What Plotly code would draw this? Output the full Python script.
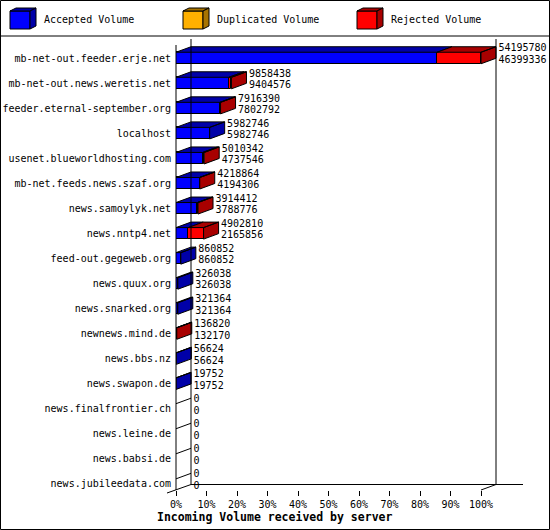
import plotly.graph_objects as go

# incoming volume per peer (bytes)
servers = [
    "mb-net-out.feeder.erje.net", "mb-net-out.news.weretis.net",
    "feeder.eternal-september.org", "localhost",
    "usenet.blueworldhosting.com", "mb-net.feeds.news.szaf.org",
    "news.samoylyk.net", "news.nntp4.net", "feed-out.gegeweb.org",
    "news.quux.org", "news.snarked.org", "newnews.mind.de", "news.bbs.nz",
    "news.swapon.de", "news.finalfrontier.ch", "news.leine.de",
    "news.babsi.de", "news.jubileedata.com",
]
total_volume = [54195780, 9858438, 7916390, 5982746, 5010342, 4218864,
                3914412, 4902810, 860852, 326038, 321364, 136820, 56624,
                19752, 0, 0, 0, 0]
accepted_volume = [46399336, 9404576, 7802792, 5982746, 4737546, 4194306,
                   3788776, 2165856, 860852, 326038, 321364, 132170, 56624,
                   19752, 0, 0, 0, 0]
duplicated_volume = [0, 0, 0, 0, 0, 0, 0, 0, 0, 0, 0, 0, 0, 0, 0, 0, 0, 0]
rejected_volume = [7796444, 453862, 113598, 0, 272796, 24558, 125636,
                   2736954, 0, 0, 0, 4650, 0, 0, 0, 0, 0, 0]

x_ticks = [0, 10, 20, 30, 40, 50, 60, 70, 80, 90, 100]
x_tick_labels = ["0%", "10%", "20%", "30%", "40%", "50%", "60%", "70%",
                 "80%", "90%", "100%"]

series = [
    ("Accepted Volume", accepted_volume, "#0000ff", "#0000a8"),
    ("Duplicated Volume", duplicated_volume, "#ffb000", "#a87400"),
    ("Rejected Volume", rejected_volume, "#ff0000", "#a80000"),
]

FONT = "DejaVu Sans Mono"
W, H = 550, 530
L, R, T, B = 176, 523, 39, 490      # plot area in pixels
PX_PER_PCT = 3.05
ROW_PX = 25.05
ROW0_PX = 58
DEPTH_X, DEPTH_Y = 15, 5.5          # 3d offset in pixels

DX = DEPTH_X / PX_PER_PCT
DY = DEPTH_Y / ROW_PX
BAR_W = 0.46


def px(x):
    return (x - L) / (R - L)


def py(y):
    return (B - y) / (B - T)


max_total = max(total_volume)
rows = list(range(len(servers)))

fig = go.Figure()

# front faces
base = [0.0] * len(servers)
segments = [[] for _ in servers]
for name, vals, col, dark in series:
    pct = [v / max_total * 100 for v in vals]
    fig.add_trace(go.Bar(
        y=rows, x=pct, base=list(base), orientation="h", width=BAR_W,
        marker=dict(color=col, line=dict(color="black", width=1)),
        name=name, showlegend=False, hoverinfo="skip"))
    for i, p in enumerate(pct):
        if p > 0:
            segments[i].append((base[i], base[i] + p, dark))
        base[i] += p

# top and side faces
faces = {}
for i, segs in enumerate(segments):
    top = i - BAR_W / 2
    bot = i + BAR_W / 2
    for x0, x1, dark in segs:
        xs, ys = faces.setdefault(dark, ([], []))
        xs += [x0, x1, x1 + DX, x0 + DX, x0, None]
        ys += [top, top, top - DY, top - DY, top, None]
    if segs:
        x1, dark = segs[-1][1], segs[-1][2]
        xs, ys = faces.setdefault(dark, ([], []))
        xs += [x1, x1 + DX, x1 + DX, x1, x1, None]
        ys += [top, top - DY, bot - DY, bot, top, None]

for dark, (xs, ys) in faces.items():
    fig.add_trace(go.Scatter(
        x=xs, y=ys, mode="lines", fill="toself", fillcolor=dark,
        line=dict(color="black", width=1), showlegend=False,
        hoverinfo="skip"))

# hatch on the left wall, for rows where no bar hides it
hx, hy = [], []
for i in rows:
    if not segments[i]:
        hx += [0, DX, None]
        hy += [i - 0.2, i - 0.2 - DY, None]
fig.add_trace(go.Scatter(
    x=hx, y=hy, mode="lines", line=dict(color="black", width=1),
    showlegend=False, hoverinfo="skip", cliponaxis=False))

# value labels: total on top, accepted below
label_x = [t / max_total * 100 + DX + 0.8 for t in total_volume]
fig.add_trace(go.Scatter(
    x=label_x, y=[i - 0.36 for i in rows], mode="text",
    text=[str(v) for v in total_volume], textposition="middle right",
    textfont=dict(family=FONT, size=10, color="black"),
    cliponaxis=False, showlegend=False, hoverinfo="skip"))
fig.add_trace(go.Scatter(
    x=label_x, y=[i + 0.1 for i in rows], mode="text",
    text=[str(v) for v in accepted_volume], textposition="middle right",
    textfont=dict(family=FONT, size=10, color="black"),
    cliponaxis=False, showlegend=False, hoverinfo="skip"))

shapes = []
line = dict(color="black", width=1)

# frame of the 3d box
right_front = L + 100 * PX_PER_PCT
frame = [
    (L, 45, L, B),
    (L + DEPTH_X, T, L + DEPTH_X, B - DEPTH_Y),
    (right_front + DEPTH_X, T, right_front + DEPTH_X, B - DEPTH_Y),
    (L + DEPTH_X, B - DEPTH_Y, R, B - DEPTH_Y),
    (L - 9, B + 3, L + DEPTH_X, B - DEPTH_Y),
    (right_front, B, right_front + DEPTH_X, B - DEPTH_Y),
    (0, 36, W, 36),
]
for x0, y0, x1, y1 in frame:
    shapes.append(dict(type="line", xref="paper", yref="paper",
                       x0=px(x0), y0=py(y0), x1=px(x1), y1=py(y1), line=line))
shapes.append(dict(type="rect", xref="paper", yref="paper",
                   x0=px(0.5), y0=py(0.5), x1=px(W - 0.5), y1=py(H - 0.5),
                   line=line))

# legend cubes
annotations = []
for (name, _, col, dark), lx in zip(series, [10, 183, 357]):
    x0, x1, y0, y1 = lx, lx + 20, 11, 29
    polys = [
        ([(x0, y0), (x1, y0), (x1, y1), (x0, y1)], col),
        ([(x0, y0), (x0 + 6, y0 - 3), (x1 + 6, y0 - 3), (x1, y0)], dark),
        ([(x1, y0), (x1 + 6, y0 - 3), (x1 + 6, y1 - 3), (x1, y1)], dark),
    ]
    for pts, c in polys:
        path = "M " + " L ".join(f"{px(a)},{py(b)}" for a, b in pts) + " Z"
        shapes.append(dict(type="path", xref="paper", yref="paper", path=path,
                           fillcolor=c, line=line))
    annotations.append(dict(
        x=px(lx + 32), y=py(20), xref="paper", yref="paper", text=name,
        showarrow=False, xanchor="left", yanchor="middle",
        font=dict(family=FONT, size=10, color="black")))

annotations.append(dict(
    x=px(155), y=py(517), xref="paper", yref="paper",
    text="<b>Incoming Volume received by server</b>", showarrow=False,
    xanchor="left", yanchor="middle",
    font=dict(family=FONT, size=11.5, color="black")))

fig.update_layout(
    width=W, height=H,
    margin=dict(l=L, r=W - R, t=T, b=H - B),
    paper_bgcolor="white", plot_bgcolor="white",
    barmode="overlay", bargap=0,
    shapes=shapes, annotations=annotations,
    font=dict(family=FONT, size=10, color="black"),
    xaxis=dict(range=[0, (R - L) / PX_PER_PCT], tickvals=x_ticks,
               ticktext=x_tick_labels, ticks="outside", ticklen=5,
               tickcolor="black", showgrid=False, zeroline=False,
               showline=False, fixedrange=True, automargin=False),
    yaxis=dict(range=[(B - ROW0_PX) / ROW_PX, (T - ROW0_PX) / ROW_PX],
               tickvals=rows, ticktext=servers, ticks="", showgrid=False,
               ticklabelstandoff=4, zeroline=False, showline=False,
               fixedrange=True, automargin=False),
)

# the page body has a default 8px margin; drop it so the chart fills the window
fig.write_html("out.html", config={"displayModeBar": False},
               post_script="document.body.style.margin='0';")
